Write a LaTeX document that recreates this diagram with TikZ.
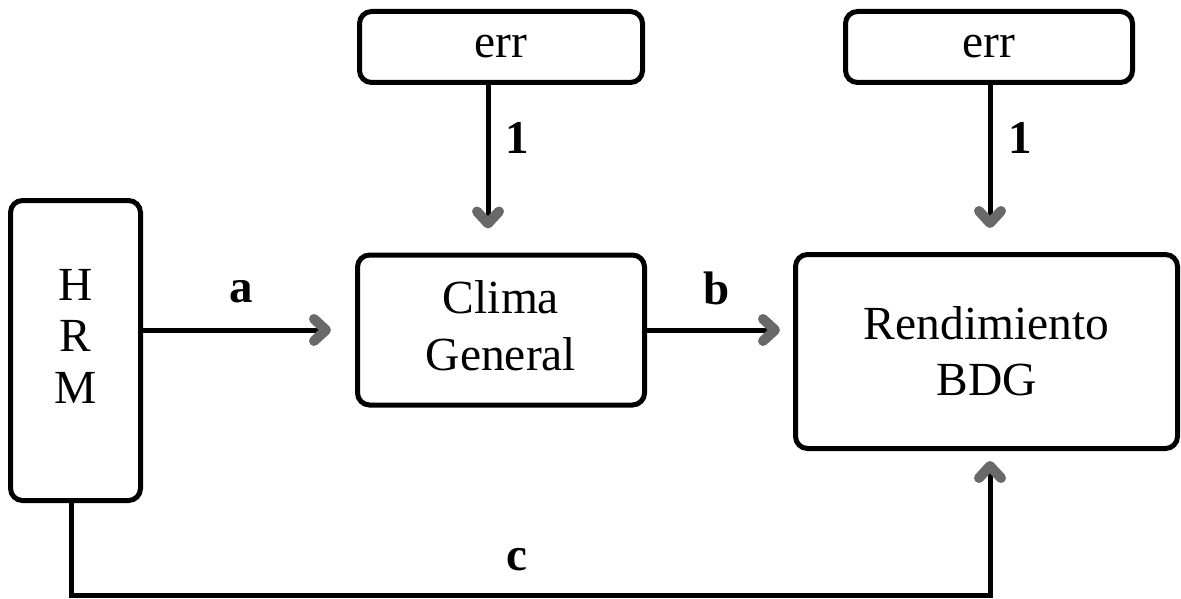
\documentclass[tikz,border=0pt]{standalone}
\usepackage{fontspec}
\setmainfont{Liberation Serif}
\usetikzlibrary{arrows.meta}
\definecolor{tipgray}{RGB}{105,105,105}
\begin{document}
\begin{tikzpicture}[x=1pt,y=-1pt,
  box/.style={draw,line width=5pt,rounded corners=12pt,inner sep=0pt,
    align=center,font=\fontsize{47.5}{56}\selectfont},
  link/.style={line width=5pt,
    -{Straight Barb[length=12pt,width=22pt,line width=10pt,round,color=tipgray]}},
  lab/.style={font=\fontsize{47}{56}\selectfont\bfseries}]
\useasboundingbox (0,0) rectangle (1181,599);

% boxes
\node[box,minimum width=283pt,minimum height=71pt] (err1) at (501,47) {err};
\node[box,minimum width=287pt,minimum height=71pt] (err2) at (989,47) {err};
\node[box,minimum width=287pt,minimum height=150pt] (clima) at (501,330) {};
\node[font=\fontsize{47.5}{57}\selectfont,align=center] (climatext) at (501,326) {Clima\\General};
\node[box,minimum width=382pt,minimum height=194pt] (rend) at (986.5,351.5) {Rendimiento\\BDG};
\node[box,minimum width=130pt,minimum height=300pt] (hrm) at (75.5,350.5) {};
\node[font=\fontsize{47.5}{51.5}\selectfont,align=center] (hrmtext) at (75.5,336) {H\\R\\M};

% connectors
\draw[link,shorten >=24pt] (err1.south -| 488,0) -- (clima.north -| 488,0);
\draw[link,shorten >=24pt] (err2.south -| 990,0) -- (rend.north -| 990,0);
\draw[link,shorten >=24pt] (hrm.east |- 0,330) -- (clima.west |- 0,330);
\draw[link,shorten >=13pt] (clima.east |- 0,330) -- (rend.west |- 0,330);
\coordinate (cbend) at (71,595);
\draw[link,shorten >=10pt] (hrm.south -| cbend) -- (cbend) -| (rend.south -| 990,0);

% labels
\node[lab] (l1) at (517,138) {1};
\node[lab] (l2) at (1020,138) {1};
\node[lab] (la) at (241,292) {a};
\node[lab] (lb) at (717,288) {b};
\node[lab] (lc) at (517,560) {c};
\end{tikzpicture}
\end{document}
